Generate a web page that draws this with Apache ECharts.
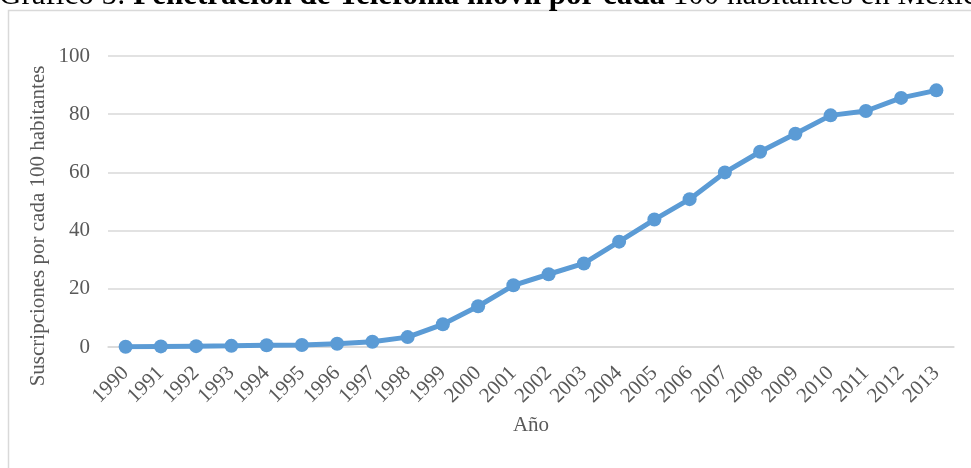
<!DOCTYPE html>
<html>
<head>
<meta charset="utf-8">
<script src="https://cdn.jsdelivr.net/npm/echarts@6/dist/echarts.min.js"></script>
<style>html,body{margin:0;padding:0;background:#fff}#c{width:971px;height:468px}</style>
</head>
<body>
<div id="c"></div>
<script>
const years = ['1990','1991','1992','1993','1994','1995','1996','1997','1998','1999','2000','2001','2002','2003','2004','2005','2006','2007','2008','2009','2010','2011','2012','2013'];
const subscriptions = [0.1, 0.2, 0.3, 0.4, 0.6, 0.7, 1.1, 1.8, 3.4, 7.8, 14.0, 21.2, 25.0, 28.7, 36.2, 43.8, 50.8, 60.0, 67.1, 73.3, 79.6, 81.1, 85.6, 88.2];
const yTicks = [0, 20, 40, 60, 80, 100];
const titlePre = 'Gráfico 5: ';
const titleBold = 'Penetración de Telefonía móvil por cada';
const titlePost = ' 100 habitantes en México';
const yName = 'Suscripciones por cada 100 habitantes';
const xName = 'Año';

const serif = '"Liberation Serif", "Times New Roman", serif';
const chart = echarts.init(document.getElementById('c'), null, {renderer: 'canvas'});
chart.setOption({
  animation: false,
  backgroundColor: '#ffffff',
  graphic: [
    {type: 'rect', shape: {x: 8.5, y: 10.5, width: 1000, height: 500}, style: {fill: 'none', stroke: '#D9D9D9', lineWidth: 1.5}, z: 0},
    {type: 'text', x: -1, y: 11, style: {
      text: '{n|' + titlePre + '}{b|' + titleBold + '}{n|' + titlePost + '}',
      align: 'left', verticalAlign: 'bottom',
      rich: {
        n: {fontFamily: serif, fontSize: 31, fill: '#000', lineHeight: 31},
        b: {fontFamily: serif, fontSize: 31, fontWeight: 'bold', fill: '#000', lineHeight: 31}
      }
    }, z: 10},
    {type: 'text', x: 38, y: 226, rotation: Math.PI / 2, style: {
      text: yName, align: 'center', verticalAlign: 'middle',
      fontFamily: serif, fontSize: 21, fill: '#595959'
    }, z: 10}
  ],
  grid: {left: 108, right: 17, top: 56, bottom: 121},
  xAxis: {
    type: 'category', data: years, boundaryGap: true,
    name: xName, nameLocation: 'middle', nameGap: 68,
    nameTextStyle: {fontFamily: serif, fontSize: 21, color: '#595959'},
    axisLine: {show: true, lineStyle: {color: '#D9D9D9', width: 1.5}},
    axisTick: {show: false},
    axisLabel: {rotate: 45, interval: 0, margin: 23, fontFamily: serif, fontSize: 21, color: '#595959'}
  },
  yAxis: {
    type: 'value', min: 0, max: 100, interval: 20,
    axisLine: {show: false}, axisTick: {show: false},
    axisLabel: {margin: 18, fontFamily: serif, fontSize: 21, color: '#595959',
      formatter: v => yTicks.includes(v) ? String(v) : ''},
    splitLine: {lineStyle: {color: '#D9D9D9', width: 1.5}}
  },
  series: [{
    type: 'line', data: subscriptions,
    symbol: 'circle', symbolSize: 14,
    lineStyle: {color: '#5B9BD5', width: 5},
    itemStyle: {color: '#5B9BD5'}
  }]
});
</script>
</body>
</html>
